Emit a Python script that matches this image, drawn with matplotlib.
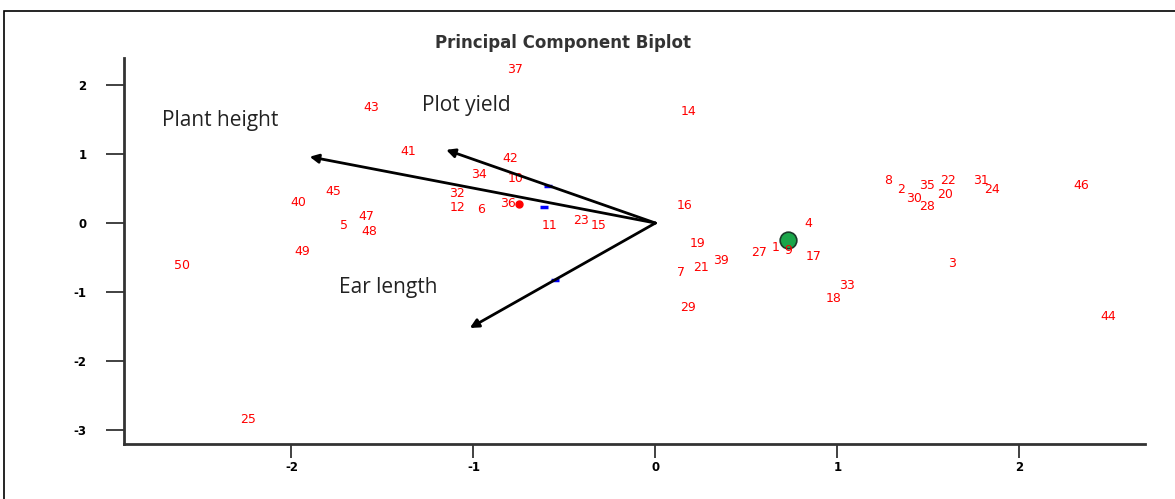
import matplotlib
matplotlib.use("Agg")
from matplotlib import pyplot as plt
from matplotlib.patches import Rectangle

# observation scores (PC1, PC2) and their labels
obs_labels = ['37', '43', '14', '41', '42', '34', '10', '45', '40', '32', '12', '6', '36',
              '16', '47', '5', '48', '11', '23', '15', '4', '49', '50', '19', '27', '1', '9',
              '17', '39', '21', '7', '3', '33', '18', '29', '44', '25', '8', '2', '35', '22',
              '31', '24', '30', '20', '28', '46']
obs_x = [-0.77, -1.56, 0.18, -1.36, -0.80, -0.97, -0.77, -1.77, -1.96, -1.09, -1.09, -0.96, -0.81,
         0.16, -1.59, -1.71, -1.57, -0.58, -0.41, -0.31, 0.84, -1.94, -2.60, 0.23, 0.57, 0.66, 0.73,
         0.87, 0.36, 0.25, 0.14, 1.63, 1.05, 0.98, 0.18, 2.49, -2.24, 1.28, 1.35, 1.49, 1.61,
         1.79, 1.85, 1.42, 1.59, 1.49, 2.34]
obs_y = [2.22, 1.68, 1.62, 1.03, 0.93, 0.70, 0.65, 0.45, 0.30, 0.43, 0.23, 0.19, 0.29,
         0.26, 0.09, -0.04, -0.12, -0.03, 0.04, -0.04, -0.01, -0.41, -0.61, -0.30, -0.43, -0.36, -0.40,
         -0.48, -0.54, -0.65, -0.72, -0.58, -0.90, -1.09, -1.22, -1.35, -2.84, 0.62, 0.49, 0.54, 0.62,
         0.62, 0.48, 0.36, 0.41, 0.24, 0.55]

# variable loadings
var_names = ['Plant height', 'Plot yield', 'Ear length']
var_x = [-1.90, -1.15, -1.02]
var_y = [0.96, 1.06, -1.52]
var_label_x = [-2.39, -1.04, -1.47]
var_label_y = [1.49, 1.70, -0.93]

# small blue markers on the arrows
blue_x = [-0.59, -0.61, -0.55]
blue_y = [0.54, 0.23, -0.83]

# highlighted point
green_x = [0.73]
green_y = [-0.25]

fig = plt.figure(figsize=(11.75, 4.99), dpi=100)
fig.patches.append(Rectangle((4 / 1175, -0.1), 1.2, 1.1 - 11 / 499, transform=fig.transFigure,
                             fill=False, edgecolor='black', linewidth=1.2))
ax = fig.add_axes([124 / 1175, 55 / 499, 1021 / 1175, 386 / 499])

for lab, x, y in zip(obs_labels, obs_x, obs_y):
    ax.text(x, y, lab, color='red', fontsize=9, ha='center', va='center',
            family='DejaVu Sans')
ax.plot([-0.75], [0.28], 'o', color='red', markersize=5)

for name, x, y, lx, ly in zip(var_names, var_x, var_y, var_label_x, var_label_y):
    ax.annotate('', xy=(x, y), xytext=(0, 0),
                arrowprops=dict(arrowstyle='-|>', color='black', lw=2, mutation_scale=13,
                                shrinkA=0, shrinkB=0))
    ax.text(lx, ly, name, fontsize=15, ha='center', va='center', family='Open Sans',
            color='#222222')

ax.plot(blue_x, blue_y, linestyle='none', marker='_', color='blue', markersize=6, mew=2.5)
ax.plot(green_x, green_y, 'o', color='#1aa64a', markersize=12, markeredgecolor='#1a3a2a', mew=1.2)

ax.set_xlim(-2.92, 2.69)
ax.set_ylim(-3.20, 2.39)
ax.set_xticks([-2, -1, 0, 1, 2])
ax.set_yticks([-3, -2, -1, 0, 1, 2])
ax.set_xticklabels(['-2', '-1', '0', '1', '2'], fontsize=8.5, fontweight='bold', family='DejaVu Sans')
ax.set_yticklabels(['-3', '-2', '-1', '0', '1', '2'], fontsize=8.5, fontweight='bold', family='DejaVu Sans')
ax.tick_params(axis='y', direction='out', length=13, width=1.3, pad=14, color='#333333')
ax.tick_params(axis='x', direction='out', length=10, width=1.3, pad=2, color='#333333')
for side in ['top', 'right']:
    ax.spines[side].set_visible(False)
for side in ['left', 'bottom']:
    ax.spines[side].set_linewidth(2)
    ax.spines[side].set_color('#333333')

fig.text(563 / 1175, 1 - 43 / 499, 'Principal Component Biplot', ha='center', va='center',
         fontsize=12, fontweight='bold', family='DejaVu Sans', color='#333333')

fig.savefig('out.png', dpi=100)
